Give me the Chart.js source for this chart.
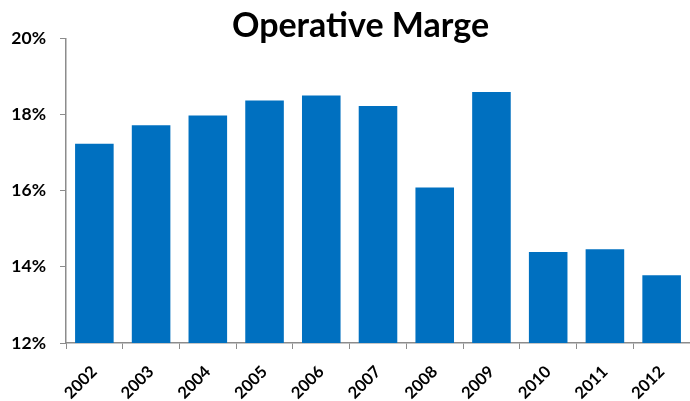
<!DOCTYPE html>
<html>
<head>
<meta charset="utf-8">
<script src="https://cdn.jsdelivr.net/npm/chart.js@4/dist/chart.umd.min.js"></script>
<style>
  html, body { margin: 0; padding: 0; background: #fff; }
  #wrap { width: 690px; height: 401px; }
</style>
</head>
<body>
<div id="wrap"><canvas id="myChart"></canvas></div>
<script>
const years = ['2002', '2003', '2004', '2005', '2006', '2007', '2008', '2009', '2010', '2011', '2012'];
const margin = [17.23, 17.72, 17.97, 18.37, 18.50, 18.22, 16.08, 18.59, 14.39, 14.46, 13.78];
const yTicks = [12, 14, 16, 18, 20];

const axisColor = '#8c8c8c';
const fontFamily = 'Lato, "Open Sans", sans-serif';

// nudge the title a little to the right, as in the original layout
const titleShift = {
  id: 'titleShift',
  afterLayout(chart) {
    const t = chart.titleBlock;
    if (t) {
      t.left += 31;
      t.width = t.right - t.left;
    }
  },
};

const ctx = document.getElementById('myChart').getContext('2d');
/*eslint-disable */
new Chart(ctx, {
  type: 'bar',
  data: {
    labels: years,
    datasets: [{
      label: 'Operative Marge',
      backgroundColor: '#0070C0',
      borderWidth: 0,
      data: margin,
      barPercentage: 0.68,
      categoryPercentage: 1,
    }]
  },
  options: {
    responsive: true,
    maintainAspectRatio: false,
    animation: false,
    layout: { padding: { left: 0, right: 0, top: 0, bottom: 0 } },
    plugins: {
      legend: { display: false },
      tooltip: { enabled: false },
      title: {
        display: true,
        text: 'Operative Marge',
        color: '#000',
        font: { family: fontFamily, size: 34, weight: 'bold', lineHeight: 0.7 },
        padding: { top: 14, bottom: 0.5 },
      },
    },
    scales: {
      x: {
        grid: { drawOnChartArea: false, color: axisColor, tickLength: 6, offset: true },
        border: { color: axisColor, width: 1.5 },
        ticks: {
          color: '#000',
          font: { family: fontFamily, size: 16.5, weight: 'bold' },
          minRotation: 45,
          maxRotation: 45,
          padding: 13,
        },
        afterFit: function(scale) { scale.height = 58; },
      },
      y: {
        min: 12,
        max: 20,
        afterBuildTicks: function(scale) {
          scale.ticks = yTicks.map(v => ({ value: v }));
        },
        grid: { drawOnChartArea: false, color: axisColor, tickLength: 6 },
        border: { color: axisColor, width: 1.5 },
        ticks: {
          color: '#000',
          font: { family: fontFamily, size: 17.5, weight: 'bold' },
          padding: 14,
          callback: v => v + '%',
        },
        afterFit: function(scale) { scale.width = 66; },
      },
    },
  },
  plugins: [titleShift],
});
/*eslint-enable */
</script>
</body>
</html>
